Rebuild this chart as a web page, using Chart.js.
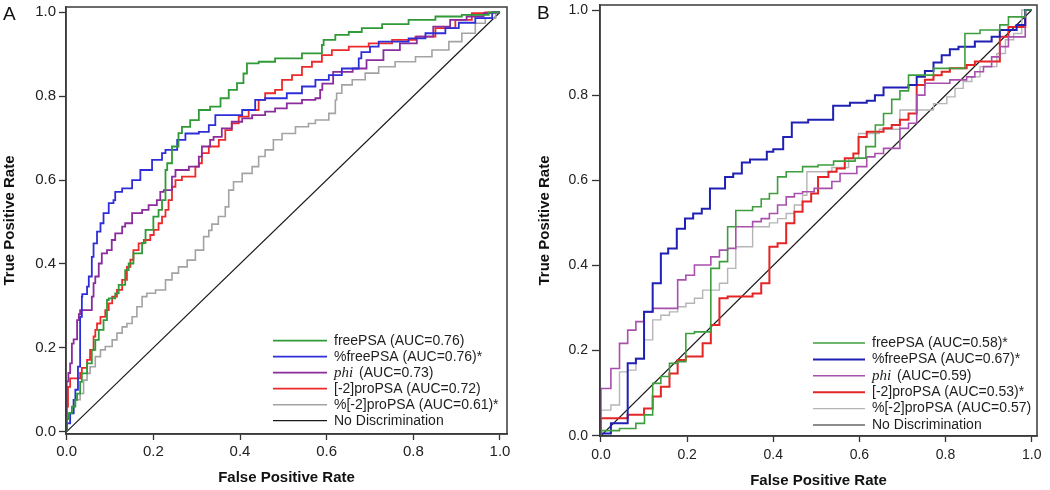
<!DOCTYPE html>
<html>
<head>
<meta charset="utf-8">
<script src="https://cdn.jsdelivr.net/npm/chart.js@4.4.1/dist/chart.umd.min.js"></script>
<style>
  body { margin: 0; background: #fff; }
  #wrap { position: relative; width: 1050px; height: 490px; }
  #chartA { position: absolute; left: 0; top: 0; }
  #chartB { position: absolute; left: 520px; top: 0; }
</style>
</head>
<body>
<div id="wrap">
  <canvas id="chartA" width="520" height="490"></canvas>
  <canvas id="chartB" width="530" height="490"></canvas>
</div>
<script>
const FONT = '"Liberation Sans", Arial, Helvetica, sans-serif';

// ---- data: ROC points [false positive rate, true positive rate] ----
const rateTicks = [0, 0.2, 0.4, 0.6, 0.8, 1.0];
const markerNames = ['freePSA', '%freePSA', 'phi', '[-2]proPSA', '%[-2]proPSA'];
const aucLabelsA = ['(AUC=0.76)', '(AUC=0.76)*', '(AUC=0.73)', '(AUC=0.72)', '(AUC=0.61)*'];
const aucLabelsB = ['(AUC=0.58)*', '(AUC=0.67)*', '(AUC=0.59)', '(AUC=0.53)*', '(AUC=0.57)'];
const referenceLabel = 'No Discrimination';
const referenceLine = [[0, 0], [1, 1]];

// panel A
const freePSA_A = [[0,0],[0.005,0.03],[0.012,0.044],[0.02,0.06],[0.024,0.076],[0.031,0.091],[0.035,0.119],[0.047,0.139],[0.058,0.163],[0.066,0.195],[0.074,0.219],[0.085,0.243],[0.093,0.266],[0.097,0.314],[0.112,0.318],[0.12,0.33],[0.135,0.35],[0.143,0.385],[0.154,0.401],[0.174,0.425],[0.182,0.45],[0.2,0.481],[0.212,0.513],[0.22,0.529],[0.228,0.552],[0.232,0.624],[0.243,0.64],[0.258,0.68],[0.266,0.712],[0.285,0.727],[0.305,0.743],[0.331,0.767],[0.355,0.775],[0.374,0.795],[0.393,0.815],[0.408,0.831],[0.416,0.854],[0.443,0.878],[0.481,0.882],[0.543,0.89],[0.589,0.902],[0.593,0.922],[0.62,0.934],[0.651,0.946],[0.681,0.953],[0.728,0.962],[0.789,0.972],[0.851,0.982],[0.912,0.99],[0.974,0.994],[1,1]];
const pctFreePSA_A = [[0,0],[0.008,0.02],[0.016,0.044],[0.02,0.076],[0.026,0.1],[0.031,0.155],[0.035,0.274],[0.036,0.322],[0.047,0.328],[0.051,0.346],[0.058,0.37],[0.062,0.417],[0.07,0.449],[0.078,0.477],[0.085,0.497],[0.097,0.521],[0.108,0.545],[0.112,0.552],[0.128,0.572],[0.151,0.58],[0.17,0.6],[0.197,0.624],[0.22,0.648],[0.228,0.664],[0.255,0.672],[0.274,0.696],[0.305,0.711],[0.328,0.715],[0.343,0.731],[0.381,0.755],[0.405,0.755],[0.435,0.767],[0.458,0.791],[0.508,0.795],[0.543,0.807],[0.574,0.823],[0.605,0.839],[0.635,0.85],[0.674,0.866],[0.68,0.89],[0.7,0.905],[0.72,0.918],[0.789,0.93],[0.828,0.938],[0.874,0.95],[0.905,0.962],[0.943,0.975],[0.982,0.986],[1,1]];
const phi_A = [[0,0],[0,0.09],[0.004,0.12],[0.008,0.14],[0.012,0.163],[0.016,0.21],[0.024,0.22],[0.028,0.266],[0.031,0.28],[0.039,0.29],[0.058,0.29],[0.062,0.322],[0.066,0.354],[0.074,0.37],[0.081,0.401],[0.093,0.425],[0.104,0.433],[0.112,0.457],[0.128,0.473],[0.135,0.489],[0.151,0.497],[0.174,0.521],[0.189,0.529],[0.208,0.54],[0.216,0.552],[0.224,0.572],[0.243,0.576],[0.251,0.608],[0.282,0.624],[0.305,0.632],[0.312,0.656],[0.331,0.68],[0.339,0.696],[0.358,0.703],[0.381,0.723],[0.405,0.739],[0.428,0.747],[0.458,0.755],[0.481,0.763],[0.508,0.771],[0.543,0.783],[0.574,0.791],[0.585,0.795],[0.59,0.815],[0.615,0.83],[0.66,0.858],[0.692,0.866],[0.731,0.886],[0.769,0.91],[0.808,0.926],[0.846,0.942],[0.885,0.966],[0.923,0.982],[0.962,0.99],[0.985,0.998],[1,1]];
const proPSA_A = [[0,0],[0.003,0.06],[0.008,0.107],[0.012,0.127],[0.031,0.127],[0.035,0.14],[0.047,0.152],[0.054,0.171],[0.062,0.195],[0.066,0.227],[0.07,0.243],[0.078,0.258],[0.089,0.274],[0.097,0.29],[0.105,0.306],[0.116,0.322],[0.128,0.338],[0.139,0.362],[0.147,0.393],[0.154,0.41],[0.166,0.433],[0.178,0.449],[0.193,0.457],[0.201,0.469],[0.212,0.481],[0.22,0.497],[0.228,0.513],[0.235,0.529],[0.243,0.552],[0.251,0.584],[0.266,0.6],[0.297,0.608],[0.305,0.632],[0.312,0.64],[0.328,0.664],[0.351,0.68],[0.366,0.696],[0.381,0.719],[0.397,0.735],[0.42,0.751],[0.443,0.767],[0.458,0.791],[0.481,0.807],[0.497,0.815],[0.52,0.839],[0.543,0.85],[0.566,0.87],[0.589,0.882],[0.612,0.898],[0.651,0.91],[0.697,0.918],[0.751,0.926],[0.805,0.934],[0.851,0.942],[0.897,0.962],[0.935,0.982],[0.966,0.998],[1,1]];
const pctProPSA_A = [[0,0],[0.008,0.02],[0.016,0.044],[0.031,0.076],[0.039,0.091],[0.047,0.123],[0.054,0.139],[0.066,0.155],[0.078,0.179],[0.089,0.195],[0.105,0.203],[0.116,0.219],[0.128,0.235],[0.139,0.25],[0.151,0.258],[0.162,0.274],[0.174,0.298],[0.185,0.322],[0.205,0.33],[0.228,0.338],[0.243,0.362],[0.258,0.378],[0.278,0.393],[0.297,0.409],[0.316,0.433],[0.328,0.465],[0.335,0.48],[0.35,0.495],[0.366,0.513],[0.374,0.536],[0.385,0.576],[0.405,0.596],[0.428,0.616],[0.443,0.632],[0.458,0.656],[0.477,0.672],[0.497,0.696],[0.528,0.711],[0.558,0.727],[0.574,0.735],[0.605,0.743],[0.62,0.759],[0.623,0.791],[0.635,0.807],[0.659,0.827],[0.689,0.839],[0.72,0.855],[0.758,0.87],[0.805,0.882],[0.843,0.894],[0.882,0.91],[0.912,0.93],[0.943,0.95],[0.966,0.974],[0.99,0.986],[1,1]];

// panel B
const freePSA_B = [[0,0],[0.043,0.012],[0.081,0.017],[0.101,0.029],[0.12,0.049],[0.139,0.123],[0.159,0.139],[0.178,0.17],[0.197,0.174],[0.217,0.24],[0.255,0.244],[0.275,0.393],[0.294,0.409],[0.313,0.491],[0.352,0.529],[0.372,0.538],[0.391,0.556],[0.41,0.569],[0.43,0.608],[0.468,0.62],[0.504,0.632],[0.54,0.636],[0.59,0.645],[0.615,0.652],[0.637,0.679],[0.656,0.73],[0.675,0.757],[0.694,0.79],[0.714,0.81],[0.772,0.847],[0.845,0.863],[0.88,0.945],[0.926,0.953],[0.946,0.965],[0.985,0.984],[1,1]];
const pctFreePSA_B = [[0,0],[0.023,0.005],[0.062,0.029],[0.081,0.17],[0.1,0.181],[0.12,0.291],[0.139,0.358],[0.156,0.428],[0.176,0.44],[0.195,0.486],[0.214,0.51],[0.234,0.522],[0.253,0.533],[0.288,0.581],[0.307,0.608],[0.327,0.616],[0.346,0.642],[0.385,0.649],[0.4,0.667],[0.423,0.673],[0.443,0.702],[0.481,0.736],[0.539,0.742],[0.578,0.775],[0.617,0.782],[0.636,0.787],[0.656,0.8],[0.714,0.818],[0.733,0.824],[0.752,0.843],[0.772,0.857],[0.791,0.877],[0.81,0.894],[0.83,0.908],[0.868,0.914],[0.907,0.926],[0.926,0.937],[0.965,0.953],[0.985,0.965],[1,1]];
const phi_B = [[0,0],[0.023,0.111],[0.043,0.158],[0.062,0.217],[0.081,0.248],[0.1,0.268],[0.12,0.291],[0.178,0.299],[0.197,0.366],[0.217,0.377],[0.255,0.401],[0.275,0.42],[0.294,0.436],[0.313,0.44],[0.352,0.491],[0.372,0.503],[0.391,0.51],[0.41,0.522],[0.43,0.542],[0.449,0.561],[0.468,0.569],[0.495,0.573],[0.536,0.581],[0.555,0.597],[0.594,0.616],[0.617,0.632],[0.636,0.655],[0.656,0.663],[0.694,0.675],[0.714,0.722],[0.733,0.734],[0.752,0.8],[0.81,0.828],[0.849,0.836],[0.868,0.843],[0.888,0.855],[0.907,0.867],[0.926,0.89],[0.946,0.914],[0.985,0.937],[1,1]];
const proPSA_B = [[0,0],[0.062,0.041],[0.1,0.049],[0.12,0.064],[0.139,0.092],[0.159,0.115],[0.178,0.146],[0.197,0.178],[0.236,0.186],[0.255,0.217],[0.275,0.26],[0.294,0.323],[0.352,0.327],[0.372,0.334],[0.391,0.358],[0.41,0.444],[0.43,0.452],[0.449,0.499],[0.468,0.526],[0.488,0.55],[0.504,0.569],[0.528,0.608],[0.547,0.62],[0.566,0.628],[0.586,0.652],[0.598,0.663],[0.617,0.702],[0.656,0.714],[0.675,0.722],[0.694,0.73],[0.714,0.742],[0.733,0.757],[0.752,0.824],[0.772,0.836],[0.791,0.847],[0.81,0.855],[0.849,0.863],[0.868,0.871],[0.926,0.879],[0.946,0.937],[0.985,0.96],[1,1]];
const pctProPSA_B = [[0,0],[0.023,0.06],[0.043,0.072],[0.062,0.15],[0.081,0.154],[0.1,0.182],[0.12,0.225],[0.139,0.272],[0.159,0.283],[0.178,0.291],[0.197,0.303],[0.217,0.311],[0.236,0.323],[0.275,0.342],[0.294,0.358],[0.313,0.393],[0.352,0.444],[0.391,0.491],[0.41,0.5],[0.43,0.51],[0.449,0.522],[0.468,0.542],[0.478,0.565],[0.536,0.62],[0.575,0.63],[0.598,0.651],[0.646,0.71],[0.694,0.72],[0.772,0.765],[0.803,0.78],[0.822,0.796],[0.841,0.816],[0.861,0.832],[0.88,0.843],[0.919,0.867],[0.939,0.898],[0.958,0.93],[0.977,0.945],[1,1]];

const colorsA = ['#2f9a37', '#2e2ed8', '#8a2c9c', '#ec2a2a', '#a3a3a3'];
const colorsB = ['#3e9e3e', '#2020b4', '#a94fac', '#e32525', '#b5b5b5'];

// frame round the plot, legend inside it, panel letter
const rocDecor = {
  id: 'rocDecor',
  afterDatasetsDraw(chart, args, opts) {
    const { ctx, chartArea: a } = chart;
    const sets = chart.data.datasets;
    ctx.save();
    ctx.strokeStyle = '#3a3a3a';
    ctx.lineWidth = 1.5;
    ctx.strokeRect(a.left, a.top, a.right - a.left, a.bottom - a.top);

    const x0 = a.right - opts.fromRight;
    sets.forEach((d, i) => {
      const y = a.bottom - opts.fromBottom - (sets.length - 1 - i) * opts.rowGap;
      ctx.strokeStyle = d.borderColor;
      ctx.lineWidth = d.borderWidth;
      ctx.beginPath();
      ctx.moveTo(x0, y);
      ctx.lineTo(x0 + opts.sample, y);
      ctx.stroke();
      let tx = x0 + opts.sample + 7;
      ctx.fillStyle = '#1e1e1e';
      ctx.textBaseline = 'middle';
      ctx.textAlign = 'left';
      ctx.font = d.name === 'phi' ? 'italic 15px "Liberation Serif", serif' : '14px ' + FONT;
      ctx.fillText(d.name, tx, y);
      tx += ctx.measureText(d.name).width;
      if (d.auc) {
        ctx.font = '14px ' + FONT;
        ctx.fillText(' ' + d.auc, tx + (d.name === 'phi' ? 2 : 0), y);
      }
    });

    ctx.fillStyle = '#111';
    ctx.textBaseline = 'alphabetic';
    ctx.font = '19px ' + FONT;
    ctx.fillText(opts.letter, opts.letterX, opts.letterY);
    ctx.restore();
  }
};

function rocDatasets(curves, aucs, colors, widths) {
  const sets = curves.map((pts, i) => ({
    label: markerNames[i] + ' ' + aucs[i],
    name: markerNames[i],
    auc: aucs[i],
    data: pts.map(([x, y]) => ({ x, y })),
    borderColor: colors[i],
    borderWidth: widths[i],
    stepped: 'after',
    pointRadius: 0,
    fill: false
  }));
  sets.push({
    label: referenceLabel,
    name: referenceLabel,
    auc: '',
    data: referenceLine.map(([x, y]) => ({ x, y })),
    borderColor: '#1a1a1a',
    borderWidth: 1.2,
    pointRadius: 0,
    fill: false
  });
  return sets;
}

function rocChart(id, sets, g) {
  const tickFont = { family: FONT, size: g.tickSize };
  const titleFont = { family: FONT, size: 15, weight: 'bold' };
  const setTicks = s => { s.ticks = rateTicks.map(v => ({ value: v })); };
  return new Chart(document.getElementById(id), {
    type: 'line',
    data: { datasets: sets },
    options: {
      responsive: false,
      animation: false,
      events: [],
      layout: { autoPadding: false, padding: { left: 0, right: g.padRight, top: g.padTop, bottom: 0 } },
      plugins: {
        legend: { display: false },
        tooltip: { enabled: false },
        rocDecor: g.legend
      },
      scales: {
        x: {
          type: 'linear', min: g.xMin, max: g.xMax,
          afterBuildTicks: setTicks,
          afterFit: s => { s.height = g.xAxisH; s.paddingLeft = 0; s.paddingRight = 0; },
          ticks: { font: tickFont, color: '#222', padding: g.xTickPad, maxRotation: 0, autoSkip: false, callback: v => v.toFixed(1) },
          grid: { drawOnChartArea: false, tickLength: 6, tickColor: '#333', tickWidth: 1.3 },
          border: { display: true, color: '#3a3a3a', width: 1.5 },
          title: { display: true, text: 'False Positive Rate', font: titleFont, color: '#111', padding: { top: 0, bottom: g.xTitlePad } }
        },
        y: {
          type: 'linear', min: g.yMin, max: g.yMax,
          afterBuildTicks: setTicks,
          afterFit: s => { s.width = g.yAxisW; s.paddingTop = 0; s.paddingBottom = 0; },
          ticks: { font: tickFont, color: '#222', padding: g.yTickPad, autoSkip: false, callback: v => v.toFixed(1) },
          grid: { drawOnChartArea: false, tickLength: g.yTickLen, tickColor: '#333', tickWidth: 1.3 },
          border: { display: true, color: '#3a3a3a', width: 1.5 },
          title: { display: true, text: 'True Positive Rate', font: titleFont, color: '#111', padding: { top: g.yTitlePad, bottom: 0 } }
        }
      }
    },
    plugins: [rocDecor]
  });
}

rocChart('chartA',
  rocDatasets([freePSA_A, pctFreePSA_A, phi_A, proPSA_A, pctProPSA_A], aucLabelsA, colorsA, [1.8, 1.8, 1.8, 1.8, 1.6]),
  {
    tickSize: 15, padRight: 13, padTop: 7, xAxisH: 56, yAxisW: 66,
    xMin: -0.0016, xMax: 1.0162, yMin: -0.0055, yMax: 1.0126,
    xTickPad: 3, yTickPad: 3, yTickLen: 7, xTitlePad: 3, yTitlePad: 1,
    legend: { fromRight: 234, fromBottom: 13.3, rowGap: 16, sample: 54, letter: 'A', letterX: 3, letterY: 20 }
  });

rocChart('chartB',
  rocDatasets([freePSA_B, pctFreePSA_B, phi_B, proPSA_B, pctProPSA_B], aucLabelsB, colorsB, [1.6, 2, 1.6, 2, 1.4]),
  {
    tickSize: 14, padRight: 13, padTop: 5, xAxisH: 54, yAxisW: 80,
    xMin: -0.0023, xMax: 1.0123, yMin: -0.0007, yMax: 1.0118,
    xTickPad: 5, yTickPad: 4, yTickLen: 8, xTitlePad: 0, yTitlePad: 16,
    legend: { fromRight: 224, fromBottom: 11, rowGap: 16.4, sample: 52, letter: 'B', letterX: 17, letterY: 18.5 }
  });
</script>
</body>
</html>
